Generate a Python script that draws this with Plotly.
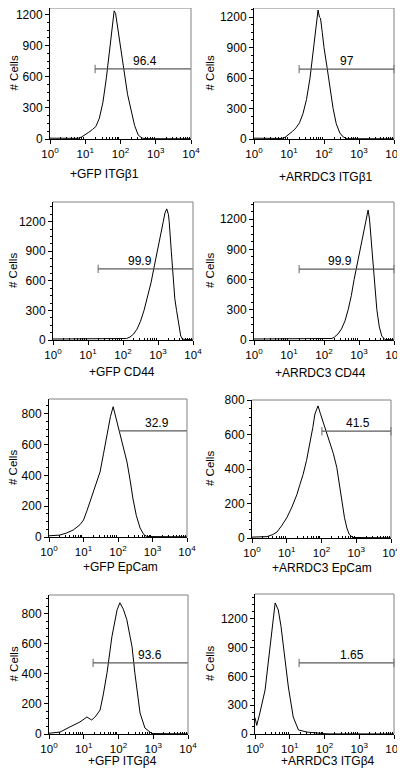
import plotly.graph_objects as go

# ---------------- data (x as log10 fluorescence, y as # cells) ----------------
titles = ["+GFP ITGβ1", "+ARRDC3 ITGβ1", "+GFP CD44", "+ARRDC3 CD44",
          "+GFP EpCam", "+ARRDC3 EpCam", "+GFP ITGβ4", "+ARRDC3 ITGβ4"]

gfp_itgb1_logx = [0, 0.8, 0.9, 1.0, 1.1, 1.2, 1.3, 1.4, 1.5, 1.6, 1.7, 1.78, 1.82, 1.86, 1.95, 2.0, 2.08, 2.2, 2.32, 2.4, 2.5, 2.6, 2.7, 4]
gfp_itgb1_cnt = [8, 6, 20, 40, 65, 90, 120, 200, 350, 590, 880, 1120, 1235, 1210, 1000, 880, 690, 430, 250, 130, 40, 10, 3, 2]

arr_itgb1_logx = [0, 0.8, 0.9, 1.0, 1.1, 1.2, 1.3, 1.4, 1.5, 1.6, 1.7, 1.77, 1.83, 1.87, 1.9, 1.95, 2.0, 2.09, 2.2, 2.26, 2.35, 2.45, 2.55, 2.66, 4]
arr_itgb1_cnt = [8, 5, 20, 45, 75, 110, 160, 250, 390, 600, 870, 1100, 1270, 1200, 1190, 1050, 900, 700, 440, 300, 150, 60, 20, 3, 2]

gfp_cd44_logx = [0, 2.0, 2.1, 2.2, 2.3, 2.4, 2.5, 2.6, 2.7, 2.8, 2.9, 3.0, 3.1, 3.15, 3.2, 3.25, 3.3, 3.32, 3.38, 3.43, 3.48, 3.53, 3.6, 3.65, 3.7, 4]
gfp_cd44_cnt = [10, 10, 15, 30, 60, 110, 190, 300, 430, 580, 760, 930, 1080, 1200, 1290, 1330, 1270, 1200, 900, 600, 420, 300, 120, 40, 8, 2]

arr_cd44_logx = [0, 2.1, 2.23, 2.3, 2.4, 2.5, 2.6, 2.69, 2.78, 2.86, 2.95, 3.03, 3.12, 3.2, 3.26, 3.3, 3.37, 3.43, 3.51, 3.58, 3.65, 3.74, 4]
arr_cd44_cnt = [10, 10, 15, 30, 60, 110, 190, 300, 440, 600, 750, 900, 1060, 1200, 1290, 1200, 900, 600, 300, 130, 40, 5, 2]

gfp_epcam_logx = [0, 0.3, 0.5, 0.7, 0.9, 1.0, 1.1, 1.19, 1.3, 1.4, 1.48, 1.58, 1.68, 1.78, 1.86, 1.92, 2.0, 2.06, 2.16, 2.26, 2.35, 2.43, 2.53, 2.64, 2.75, 2.84, 4]
gfp_epcam_cnt = [8, 12, 25, 45, 80, 110, 170, 227, 300, 370, 422, 540, 662, 780, 845, 790, 720, 682, 590, 487, 370, 253, 140, 58, 15, 3, 1]

arr_epcam_logx = [0, 0.43, 0.6, 0.72, 0.85, 1.0, 1.15, 1.29, 1.38, 1.47, 1.57, 1.67, 1.75, 1.81, 1.9, 1.97, 2.04, 2.14, 2.24, 2.34, 2.44, 2.51, 2.58, 2.66, 2.73, 2.8, 2.9, 4]
arr_epcam_cnt = [5, 8, 20, 35, 70, 117, 180, 251, 310, 368, 450, 544, 640, 719, 766, 720, 678, 620, 561, 490, 409, 310, 211, 120, 58, 20, 3, 1]

gfp_itgb4_logx = [0, 0.32, 0.6, 0.89, 1.09, 1.23, 1.35, 1.47, 1.56, 1.67, 1.81, 1.96, 2.04, 2.14, 2.24, 2.39, 2.47, 2.55, 2.62, 2.76, 2.96, 4]
gfp_itgb4_cnt = [5, 13, 47, 80, 113, 93, 120, 160, 260, 407, 647, 827, 873, 830, 760, 580, 407, 260, 140, 40, 3, 1]

arr_itgb4_logx = [0, 0.05, 0.14, 0.29, 0.38, 0.48, 0.58, 0.67, 0.75, 0.82, 0.96, 1.1, 1.25, 1.5, 1.78, 1.96, 2.1, 4]
arr_itgb4_cnt = [170, 90, 219, 459, 741, 1086, 1367, 1294, 1120, 908, 490, 177, 42, 20, 15, 5, 1, 1]

curve_logx = [gfp_itgb1_logx, arr_itgb1_logx, gfp_cd44_logx, arr_cd44_logx,
              gfp_epcam_logx, arr_epcam_logx, gfp_itgb4_logx, arr_itgb4_logx]
curve_cnt = [gfp_itgb1_cnt, arr_itgb1_cnt, gfp_cd44_cnt, arr_cd44_cnt,
             gfp_epcam_cnt, arr_epcam_cnt, gfp_itgb4_cnt, arr_itgb4_cnt]

gate_labels = ["96.4", "97", "99.9", "99.9", "32.9", "41.5", "93.6", "1.65"]
gate_left_logx = [1.28, 1.29, 1.29, 1.29, 2.03, 2.01, 1.27, 1.27]
gate_y = [675, 688, 722, 704, 688, 619, 473, 741]
gate_label_logx = [2.7, 2.66, 2.49, 2.46, 3.13, 3.05, 2.9, 2.79]

y_max = [1262, 1290, 1400, 1370, 895, 800, 925, 1460]
y_step = [300, 300, 300, 300, 200, 200, 200, 300]

x_tick_vals = [1, 10, 100, 1000, 10000]
x_tick_text = ["10<sup>0</sup>", "10<sup>1</sup>", "10<sup>2</sup>", "10<sup>3</sup>", "10<sup>4</sup>"]

# ---------------- layout geometry (screen pixels) ----------------
OFF = 8                      # page body margin
W, H = 405 - OFF, 771 - OFF  # figure size
boxes = [  # left, right, top, bottom  (screen px)
    (50, 191, 8, 139), (254, 394, 8, 139),
    (53, 193, 202, 340), (254, 394, 202, 340),
    (49, 187, 399, 537), (252, 391, 400, 538),
    (49, 188, 595, 734), (255, 394, 594, 734),
]
xtitle_center = [(104, 174), (326, 177), (122, 372), (320, 373),
                 (121, 567), (322, 568), (122, 761), (328, 761)]
ytitle_x = [13, 209, 13, 210, 13, 210, 13, 210]
gate_left_marker = [6, 6, 6, 6, 0, 6, 6, 6]
gate_right_marker = [0, 6, 0, 6, 0, 6, 0, 6]


def fx(px):
    return (px - OFF) / W


def fy(py):
    return 1 - (py - OFF) / H


FONT = "Liberation Sans, Arial, sans-serif"
fig = go.Figure()
minor_x = [m * 10 ** d for d in range(4) for m in range(2, 10)]

for i in range(8):
    n = "" if i == 0 else str(i + 1)
    xa, ya = "x" + n, "y" + n
    l, r, t, b = boxes[i]
    fig.add_trace(go.Scatter(
        x=[10 ** v for v in curve_logx[i]], y=curve_cnt[i], mode="lines",
        line=dict(color="black", width=1), xaxis=xa, yaxis=ya, showlegend=False,
        hoverinfo="skip"))
    # gate
    fig.add_trace(go.Scatter(
        x=[10 ** gate_left_logx[i], 10 ** 4], y=[gate_y[i], gate_y[i]],
        mode="lines+markers", line=dict(color="#5a5a5a", width=1.3),
        marker=dict(symbol="line-ns-open", size=[gate_left_marker[i], gate_right_marker[i]],
                    line=dict(color="#5a5a5a", width=1.3)),
        xaxis=xa, yaxis=ya, showlegend=False, cliponaxis=False, hoverinfo="skip"))
    fig.add_annotation(x=gate_label_logx[i], y=gate_y[i], xref=xa, yref=ya,
                       text=gate_labels[i], showarrow=False, yanchor="bottom", yshift=-1,
                       font=dict(size=12, color="black", family=FONT))
    fig.update_layout(**{
        ("xaxis" + n): dict(
            domain=[fx(l), fx(r)], anchor=ya, type="log", range=[0, 4], automargin=False,
            tickmode="array", tickvals=x_tick_vals, ticktext=x_tick_text,
            ticklabeloverflow="allow",
            ticks="outside", ticklen=4, tickcolor="black", showgrid=False,
            zeroline=False, showline=True, linecolor="black", linewidth=1,
            tickfont=dict(size=11.5, color="black", family=FONT),
            minor=dict(tickvals=minor_x, ticks="inside", ticklen=2,
                       tickcolor="black", showgrid=False)),
        ("yaxis" + n): dict(
            domain=[fy(b), fy(t)], anchor=xa, range=[0, y_max[i]], automargin=False,
            tickmode="linear", tick0=0, dtick=y_step[i],
            ticklabeloverflow="allow",
            ticks="outside", ticklen=4, tickcolor="black", showgrid=False,
            zeroline=False, showline=True, linecolor="black", linewidth=1,
            tickfont=dict(size=12, color="black", family=FONT),
            minor=dict(tickmode="linear", tick0=0, dtick=y_step[i] / 4,
                       ticks="outside", ticklen=2, tickcolor="black", showgrid=False)),
    })
    # gray top and right frame
    fig.add_shape(type="line", xref=xa + " domain", yref=ya + " domain",
                  x0=0, x1=1, y0=1, y1=1, line=dict(color="#808080", width=1))
    fig.add_shape(type="line", xref=xa + " domain", yref=ya + " domain",
                  x0=1, x1=1, y0=0, y1=1, line=dict(color="#808080", width=1))
    # axis titles
    cx, cy = xtitle_center[i]
    fig.add_annotation(x=fx(cx), y=fy(cy), xref="paper", yref="paper",
                       text=titles[i], showarrow=False, xanchor="center", yanchor="middle",
                       font=dict(size=12, color="black", family=FONT))
    fig.add_annotation(x=fx(ytitle_x[i]), y=0.5, xref="paper", yref=ya + " domain",
                       text="# Cells", textangle=-90, showarrow=False,
                       xanchor="center", yanchor="middle",
                       font=dict(size=11.5, color="black", family=FONT))

fig.update_layout(width=W, height=H, margin=dict(l=0, r=0, t=0, b=0, autoexpand=False),
                  paper_bgcolor="white", plot_bgcolor="white", template="none",
                  font=dict(family=FONT, color="black"))
fig.write_html("out.html")
